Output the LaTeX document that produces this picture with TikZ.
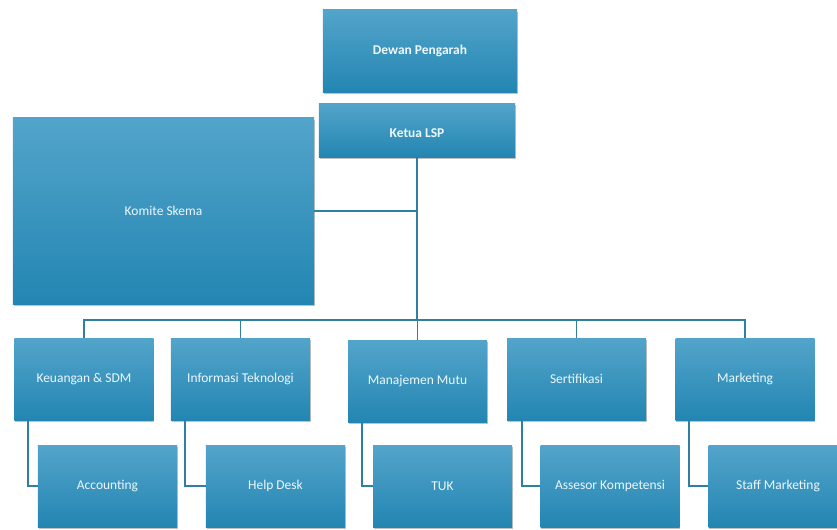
\documentclass[tikz,border=0pt]{standalone}
\usepackage{fontspec}
\setmainfont{Carlito}
\usepackage{tikz}
\usetikzlibrary{calc}
\usetikzlibrary{shadows}
\definecolor{boxtop}{HTML}{53A4CA}
\definecolor{boxbot}{HTML}{2386B2}
\definecolor{linecol}{HTML}{2F7FA3}
\definecolor{txtcol}{HTML}{EEF7FB}

\tikzset{
  unit/.style={rectangle, top color=boxtop, bottom color=boxbot, draw=none,
    text=txtcol, font=\fontsize{11.5}{13}\selectfont, inner sep=0pt,
    drop shadow={shadow xshift=0.6pt, shadow yshift=-1.8pt, opacity=0.35, fill=black!70}},
  conn/.style={draw=linecol, line width=1.6pt},
}

\begin{document}
\begin{tikzpicture}[x=0.03cm, y=-0.03cm]
\useasboundingbox (0,0) rectangle (837,529);
% \draw[lightgray, step=50] (0,0) grid (837,529);

% top
\node[unit, minimum width=5.82cm, minimum height=2.46cm, font=\bfseries\fontsize{11.5}{13}\selectfont] (dewan) at (420,51) {Dewan Pengarah};
\node[unit, minimum width=5.88cm, minimum height=1.62cm, font=\bfseries\fontsize{11.5}{13}\selectfont] (ketua) at (417,130) {\raisebox{-0.21cm}[0pt][0pt]{Ketua LSP}};
\node[unit, minimum width=9.03cm, minimum height=5.58cm] (komite) at (163.5,211) {Komite Skema};

% divisions
\node[unit, minimum width=4.17cm, minimum height=2.46cm] (keu)  at (84,379)    {Keuangan \& SDM};
\node[unit, minimum width=4.17cm, minimum height=2.46cm] (info) at (240.5,379) {Informasi Teknologi};
\node[unit, minimum width=4.17cm, minimum height=2.46cm] (mutu) at (417.5,381) {Manajemen Mutu};
\node[unit, minimum width=4.17cm, minimum height=2.46cm] (sert) at (576.5,379) {Sertifikasi};
\node[unit, minimum width=4.17cm, minimum height=2.46cm] (mark) at (745,379)   {Marketing};

% staff
\node[unit, minimum width=4.17cm, minimum height=2.46cm] (acc)   at (107.5,486) {Accounting};
\node[unit, minimum width=4.17cm, minimum height=2.46cm] (help)  at (275.5,486) {Help Desk};
\node[unit, minimum width=4.17cm, minimum height=2.46cm] (tuk)   at (442.5,486) {TUK};
\node[unit, minimum width=4.17cm, minimum height=2.46cm] (ases)  at (610,486)   {Assesor Kompetensi};
\node[unit, minimum width=4.17cm, minimum height=2.46cm] (staff) at (778,486)   {Staff Marketing};

\coordinate (bus) at (417,320);

\draw[conn] (ketua.south) -- (ketua.south |- bus);
\draw[conn] (komite.east) -- (komite.east -| ketua.south);
\draw[conn] (keu.north) |- (mark.north |- bus) -- (mark.north);
\foreach \n in {info,mutu,sert}
  \draw[conn] (\n.north) -- (\n.north |- bus);

\draw[conn] ([xshift=0.42cm]keu.south west)  |- (acc.west);
\draw[conn] ([xshift=0.42cm]info.south west) |- (help.west);
\draw[conn] ([xshift=0.42cm]mutu.south west) |- (tuk.west);
\draw[conn] ([xshift=0.45cm]sert.south west) |- (ases.west);
\draw[conn] ([xshift=0.42cm]mark.south west) |- (staff.west);

\end{tikzpicture}
\end{document}
